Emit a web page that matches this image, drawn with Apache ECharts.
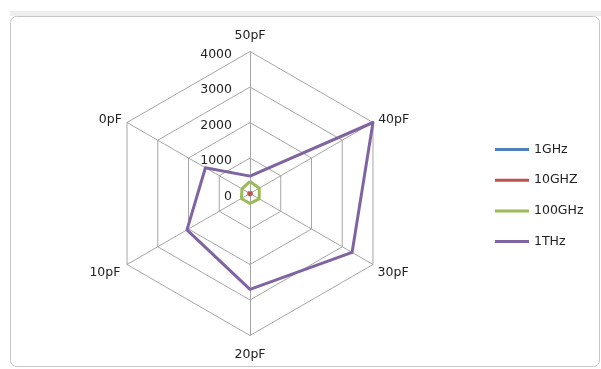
<!DOCTYPE html>
<html>
<head>
<meta charset="utf-8">
<script src="https://cdn.jsdelivr.net/npm/echarts@6/dist/echarts.min.js"></script>
<style>
html,body{margin:0;padding:0;background:#fff;}
#c{width:601px;height:369px;}
</style>
</head>
<body>
<div id="c"></div>
<script>
// Categories in the reference's clockwise order, starting at the top
const categories = ['50pF', '40pF', '30pF', '20pF', '10pF', '0pF'];
const seriesNames = ['1GHz', '10GHZ', '100GHz', '1THz'];
const s1GHz   = [5, 5, 5, 5, 5, 5];
const s10GHZ  = [40, 40, 40, 40, 40, 40];
const s100GHz = [340, 300, 300, 280, 280, 260];
const s1THz   = [490, 4000, 3320, 2700, 2050, 1450];
const tickMax = 4000;

const colors = ['#4F81BD', '#C0504D', '#9BBB59', '#8064A2'];
const FONT = 'DejaVu Sans';

// ECharts lays indicators out counter-clockwise; reorder so display is clockwise
const order = [0, 5, 4, 3, 2, 1];
const reorder = arr => order.map(i => arr[i]);
// display order after reorder: 50pF, 0pF, 10pF, 20pF, 30pF, 40pF
const nameGaps = [9, 6, 3, 13, 3, 6];
const nameStyles = [null, null,
  { verticalAlign: 'top', padding: [0, 4, 0, 0] }, null,
  { verticalAlign: 'top', padding: [0, 0, 0, 2] }, null];

const indicator = reorder(categories).map((name, i) => {
  const o = { name: name, max: tickMax, min: 0, nameGap: nameGaps[i] };
  if (nameStyles[i]) o.nameTextStyle = nameStyles[i];
  if (i !== 0) o.axisLabel = { show: false };
  return o;
});

const allData = [s1GHz, s10GHZ, s100GHz, s1THz];

const chart = echarts.init(document.getElementById('c'), null, { renderer: 'canvas' });
chart.setOption({
  animation: false,
  backgroundColor: '#ffffff',
  textStyle: { fontFamily: FONT },
  graphic: [
    { type: 'rect', shape: { x: 10, y: 11, width: 591, height: 5 }, style: { fill: '#eeeeee' }, silent: true, z: -10 },
    { type: 'rect', shape: { x: 10.5, y: 16.5, width: 589, height: 350, r: 6 }, style: { fill: 'none', stroke: '#c6c6c6', lineWidth: 1 }, silent: true, z: -10 }
  ],
  legend: {
    orient: 'vertical',
    left: 495,
    top: 143,
    padding: 0,
    itemWidth: 34,
    itemHeight: 3,
    itemGap: 17.7,
    icon: 'rect',
    data: seriesNames,
    textStyle: { fontSize: 12.5, color: '#222', fontFamily: FONT }
  },
  radar: {
    center: [250, 193.5],
    radius: 142,
    shape: 'polygon',
    splitNumber: 4,
    nameGap: 10,
    axisName: { color: '#222', fontSize: 12.5, fontFamily: FONT },
    axisLine: { lineStyle: { color: '#a6a6a6', width: 1 } },
    splitLine: { lineStyle: { color: '#a6a6a6', width: 1 } },
    splitArea: { show: false },
    axisTick: { show: false },
    axisLabel: {
      show: true, color: '#222', fontSize: 12.5, fontFamily: FONT, margin: 18,
      formatter: v => '{a|' + v + '}',
      rich: { a: { fontSize: 12.5, fontFamily: FONT, color: '#222', padding: [6, 0, 0, 0] } }
    },
    indicator: indicator
  },
  series: [{
    type: 'radar',
    symbol: 'none',
    data: seriesNames.map((n, k) => ({
      name: n,
      value: reorder(allData[k]),
      lineStyle: { color: colors[k], width: 3 },
      itemStyle: { color: colors[k] }
    }))
  }]
});
</script>
</body>
</html>
